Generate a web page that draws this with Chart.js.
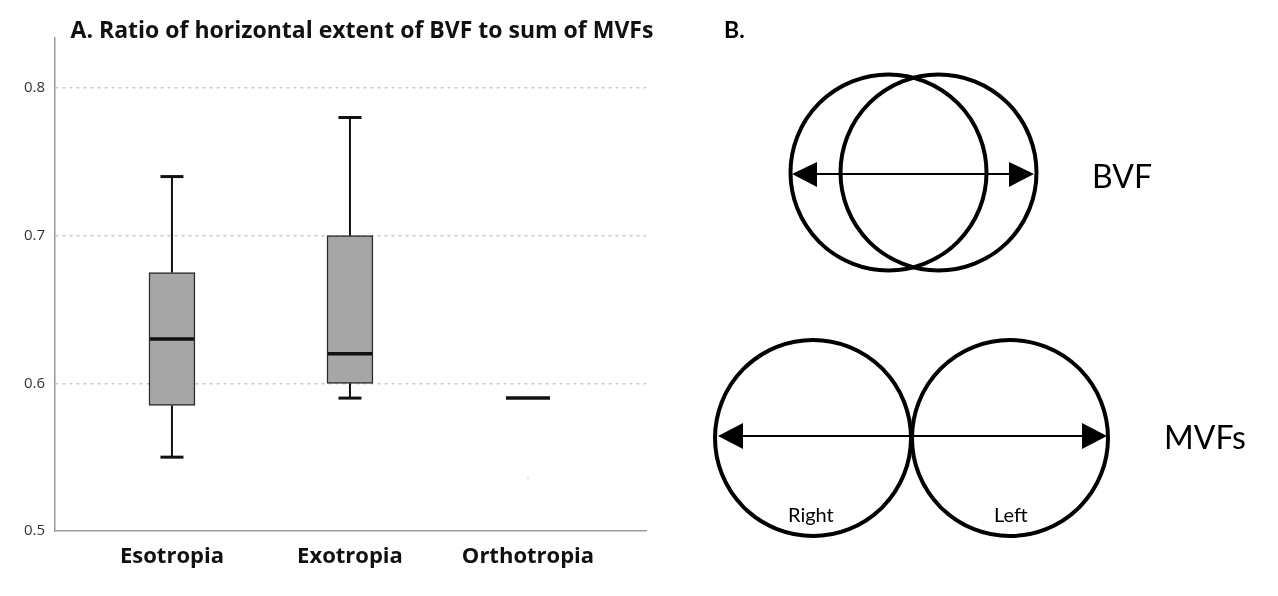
<!DOCTYPE html>
<html>
<head>
<meta charset="utf-8">
<script src="https://cdn.jsdelivr.net/npm/chart.js@4.4.0/dist/chart.umd.min.js"></script>
<style>
  html, body { margin: 0; padding: 0; background: #fff; }
  #wrap { position: relative; width: 1278px; height: 596px; overflow: hidden; }
  #box-chart { position: absolute; left: 0; top: 0; }
  #diagram { position: absolute; left: 0; top: 0; pointer-events: none; }
  #diagram text { font-family: Lato, "Noto Sans", sans-serif; fill: #000; }
</style>
</head>
<body>
<div id="wrap">
  <canvas id="box-chart" width="724" height="596"></canvas>
  <svg id="diagram" width="1278" height="596" viewBox="0 0 1278 596">
    <text x="724" y="38" font-size="23" font-weight="bold">B.</text>

    <!-- BVF: two overlapping fields -->
    <circle cx="888.5" cy="172.5" r="98" fill="none" stroke="#000" stroke-width="4"/>
    <circle cx="938.5" cy="172.5" r="98" fill="none" stroke="#000" stroke-width="4"/>
    <line x1="815" y1="174" x2="1011" y2="174" stroke="#000" stroke-width="2"/>
    <polygon points="792,174 817,162 817,187" fill="#000"/>
    <polygon points="1034,174 1009,162 1009,187" fill="#000"/>
    <text x="1092" y="188" font-size="32">BVF</text>

    <!-- MVFs: two touching fields -->
    <circle cx="813" cy="438" r="98" fill="none" stroke="#000" stroke-width="4"/>
    <circle cx="1010" cy="438" r="98" fill="none" stroke="#000" stroke-width="4"/>
    <line x1="742" y1="436" x2="1084" y2="436" stroke="#000" stroke-width="2"/>
    <polygon points="718,436 743,423 743,449" fill="#000"/>
    <polygon points="1107,436 1082,423 1082,449" fill="#000"/>
    <text x="788" y="522" font-size="20">Right</text>
    <text x="994" y="522" font-size="20">Left</text>
    <text x="1164" y="449" font-size="32">MVFs</text>
  </svg>
</div>
<script>
// box plot summary
const groups = ["Esotropia", "Exotropia", "Orthotropia"];
const whiskerLow = [0.55, 0.59, 0.59];
const q1 = [0.585, 0.60, 0.59];
const median = [0.63, 0.62, 0.59];
const q3 = [0.675, 0.70, 0.59];
const whiskerHigh = [0.74, 0.78, 0.59];
const faintPoints = [null, null, 0.536];
const yTicks = [0.5, 0.6, 0.7, 0.8];

const BOX_W = 46;
const CAP_W = 23;

// whiskers, caps and medians, placed with the chart scales
const whiskerPlugin = {
  id: 'whiskers',
  afterDatasetsDraw(chart) {
    const ctx = chart.ctx;
    const xs = chart.scales.x, ys = chart.scales.y;
    ctx.save();
    ctx.strokeStyle = '#111';
    groups.forEach((g, i) => {
      const x = xs.getPixelForValue(i);
      const yLo = ys.getPixelForValue(whiskerLow[i]);
      const yQ1 = ys.getPixelForValue(q1[i]);
      const yQ3 = ys.getPixelForValue(q3[i]);
      const yHi = ys.getPixelForValue(whiskerHigh[i]);
      const yMed = ys.getPixelForValue(median[i]);
      if (whiskerHigh[i] > q3[i]) {
        ctx.lineWidth = 2;
        ctx.beginPath(); ctx.moveTo(x, yQ3); ctx.lineTo(x, yHi); ctx.stroke();
        ctx.lineWidth = 3;
        ctx.beginPath(); ctx.moveTo(x - CAP_W / 2, yHi); ctx.lineTo(x + CAP_W / 2, yHi); ctx.stroke();
      }
      if (whiskerLow[i] < q1[i]) {
        ctx.lineWidth = 2;
        ctx.beginPath(); ctx.moveTo(x, yQ1); ctx.lineTo(x, yLo); ctx.stroke();
        ctx.lineWidth = 3;
        ctx.beginPath(); ctx.moveTo(x - CAP_W / 2, yLo); ctx.lineTo(x + CAP_W / 2, yLo); ctx.stroke();
      }
      ctx.lineWidth = 3.5;
      ctx.beginPath(); ctx.moveTo(x - BOX_W / 2 + 1, yMed); ctx.lineTo(x + BOX_W / 2 - 1, yMed); ctx.stroke();
    });
    ctx.restore();
  }
};

new Chart(document.getElementById("box-chart"), {
  type: 'bar',
  data: {
    datasets: [
      {
        label: 'IQR',
        data: groups.map((g, i) => ({ x: i, y: [q1[i], q3[i]] })),
        backgroundColor: '#a6a6a6',
        borderColor: '#2a2a2a',
        borderWidth: 1.5,
        borderSkipped: false,
        barThickness: BOX_W,
        grouped: false
      },
      {
        type: 'scatter',
        label: 'faint',
        data: groups.map((g, i) => ({ x: i, y: faintPoints[i] })).filter(p => p.y !== null),
        pointRadius: 1,
        pointBackgroundColor: '#dddddd',
        pointBorderWidth: 0
      }
    ]
  },
  plugins: [whiskerPlugin],
  options: {
    responsive: false,
    animation: false,
    layout: { padding: 0 },
    plugins: {
      legend: { display: false },
      tooltip: { enabled: false },
      title: {
        display: true,
        text: 'A. Ratio of horizontal extent of BVF to sum of MVFs',
        color: '#111',
        font: { family: 'Open Sans', size: 23, weight: 'bold', lineHeight: 0.75 },
        padding: { top: 22.5, bottom: -2 }
      }
    },
    scales: {
      x: {
        type: 'linear',
        offset: false,
        min: -0.657,
        max: 2.663,
        afterBuildTicks: (s) => { s.ticks = groups.map((g, i) => ({ value: i })); },
        afterFit: (s) => { s.height = 65; },
        grid: { display: false, drawTicks: false },
        border: { display: true, color: '#9a9a9a', width: 1.5 },
        ticks: {
          padding: 13,
          color: '#111',
          font: { family: 'Open Sans', size: 22, weight: 'bold' },
          callback: (v) => groups[v]
        }
      },
      y: {
        min: 0.5,
        max: 0.834,
        afterBuildTicks: (s) => { s.ticks = yTicks.map(v => ({ value: v })); },
        afterFit: (s) => { s.width = 55; },
        grid: {
          drawTicks: false,
          color: (c) => (c.tick && c.tick.value === 0.5) ? 'rgba(0,0,0,0)' : '#c9c9c9',
          lineWidth: 1.5
        },
        border: { display: true, color: '#9a9a9a', width: 1.5, dash: [3, 4] },
        ticks: {
          padding: 10,
          color: '#333',
          font: { family: 'Open Sans', size: 15 },
          callback: (v) => Number(v).toFixed(1)
        }
      },
      // empty right-hand strip so the chart area ends where the reference's does
      yRight: {
        position: 'right',
        afterFit: (s) => { s.width = 78; },
        grid: { display: false, drawTicks: false },
        border: { display: false },
        ticks: { display: false }
      }
    }
  }
});
</script>
</body>
</html>
